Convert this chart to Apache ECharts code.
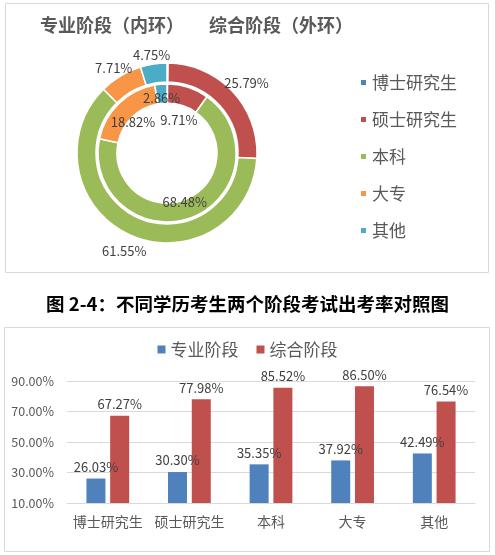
<!DOCTYPE html>
<html>
<head>
<meta charset="utf-8">
<script src="https://cdn.jsdelivr.net/npm/echarts@6/dist/echarts.min.js"></script>
<style>
html,body{margin:0;padding:0;background:#fff;}
#main{width:495px;height:555px;}
</style>
</head>
<body>
<div id="main"></div>
<script>
// ---- data ----
const categories = ['博士研究生', '硕士研究生', '本科', '大专', '其他'];
const innerValues = [0.13, 9.71, 68.48, 18.82, 2.86];   // 专业阶段（内环）
const outerValues = [0.20, 25.79, 61.55, 7.71, 4.75];   // 综合阶段（外环）
const seriesNames = ['专业阶段', '综合阶段'];
const majorRates = [26.03, 30.30, 35.35, 37.92, 42.49];
const comprehensiveRates = [67.27, 77.98, 85.52, 86.50, 76.54];
const yTicks = [10, 30, 50, 70, 90];

// ---- styles ----
const palette = ['#4F81BD', '#C0504D', '#9BBB59', '#F79646', '#4BACC6'];
const FONT = '"Noto Sans CJK SC", "Noto Sans", sans-serif';
const GRAY = '#595959';
const CX = 167, CY = 153;
// label distance factors (relative to the ring's middle radius), per ring
const innerLabelFactor = { '硕士研究生': 0.62, '其他': 0.95 };
const outerLabelFactor = { '硕士研究生': 1.3 };

function radial(defFactor, table) {
  return function (p) {
    const name = categories[p.dataIndex];
    const f = table[name] !== undefined ? table[name] : defFactor;
    const r = p.labelRect;
    const lx = r.x + r.width / 2, ly = r.y + r.height / 2;
    return { x: CX + (lx - CX) * f, y: CY + (ly - CY) * f + 4, align: 'center', verticalAlign: 'middle' };
  };
}
function pieData(vals) {
  return vals.map((v, i) => ({ name: categories[i], value: v, label: { show: v >= 1 } }));
}

const chart = echarts.init(document.getElementById('main'));
chart.setOption({
  animation: false,
  color: palette,
  textStyle: { fontFamily: FONT },
  graphic: [
    { type: 'rect', z: -10, shape: { x: 5.5, y: 3.5, width: 483, height: 269 }, style: { fill: 'none', stroke: '#d9d9d9', lineWidth: 1 } },
    { type: 'rect', z: -10, shape: { x: 4.5, y: 327.5, width: 485, height: 224 }, style: { fill: 'none', stroke: '#d9d9d9', lineWidth: 1 } },
    { type: 'text', left: 'center', top: 295, style: { text: '图 2-4：不同学历考生两个阶段考试出考率对照图', fill: '#000', font: 'bold 18.5px ' + FONT } },
    { type: 'text', left: 40, top: 16, style: { text: '专业阶段（内环）', fill: GRAY, font: 'bold 18px ' + FONT } },
    { type: 'text', left: 209, top: 16, style: { text: '综合阶段（外环）', fill: GRAY, font: 'bold 18px ' + FONT } }
  ],
  legend: [
    {
      data: categories, orient: 'vertical', left: 354, top: 69, itemGap: 20,
      icon: 'rect', itemWidth: 7, itemHeight: 7,
      textStyle: { color: GRAY, fontSize: 17, fontFamily: FONT }
    },
    {
      data: seriesNames, left: 'center', top: 336, itemGap: 18,
      icon: 'rect', itemWidth: 8, itemHeight: 8,
      textStyle: { color: GRAY, fontSize: 17, fontFamily: FONT }
    }
  ],
  grid: { left: 67, right: 20, top: 381, bottom: 52, containLabel: false },
  xAxis: {
    type: 'category', data: categories,
    axisLine: { lineStyle: { color: '#d9d9d9' } }, axisTick: { show: false },
    axisLabel: { color: GRAY, fontSize: 14, margin: 12, interval: 0, fontFamily: FONT }
  },
  yAxis: {
    type: 'value', min: yTicks[0], max: yTicks[yTicks.length - 1], interval: yTicks[1] - yTicks[0],
    axisLine: { show: false }, axisTick: { show: false },
    splitLine: { lineStyle: { color: '#d9d9d9', width: 1 } },
    axisLabel: { color: GRAY, fontSize: 12.5, margin: 13, formatter: v => v.toFixed(2) + '%', fontFamily: FONT }
  },
  series: [
    {
      name: '专业阶段（内环）', type: 'pie', center: [CX, CY], radius: [50, 69],
      startAngle: 90, clockwise: true, data: pieData(innerValues),
      itemStyle: { borderColor: '#fff', borderWidth: 1.5 },
      label: { position: 'inside', color: '#404040', fontSize: 13, formatter: p => p.value.toFixed(2) + '%' },
      labelLine: { show: false }, labelLayout: radial(0.78, innerLabelFactor), emphasis: { disabled: true }
    },
    {
      name: '综合阶段（外环）', type: 'pie', center: [CX, CY], radius: [71, 90],
      startAngle: 90, clockwise: true, data: pieData(outerValues),
      itemStyle: { borderColor: '#fff', borderWidth: 1.5 },
      label: { position: 'inside', color: '#404040', fontSize: 13, formatter: p => p.value.toFixed(2) + '%' },
      labelLine: { show: false }, labelLayout: radial(1.24, outerLabelFactor), emphasis: { disabled: true }
    },
    {
      name: seriesNames[0], type: 'bar', data: majorRates, barWidth: 19, barGap: '25%',
      itemStyle: { color: palette[0] },
      label: { show: true, position: 'top', color: '#404040', fontSize: 13, formatter: p => p.value.toFixed(2) + '%' }
    },
    {
      name: seriesNames[1], type: 'bar', data: comprehensiveRates, barWidth: 19,
      itemStyle: { color: palette[1] },
      label: { show: true, position: 'top', color: '#404040', fontSize: 13, formatter: p => p.value.toFixed(2) + '%' }
    }
  ]
});
</script>
</body>
</html>
